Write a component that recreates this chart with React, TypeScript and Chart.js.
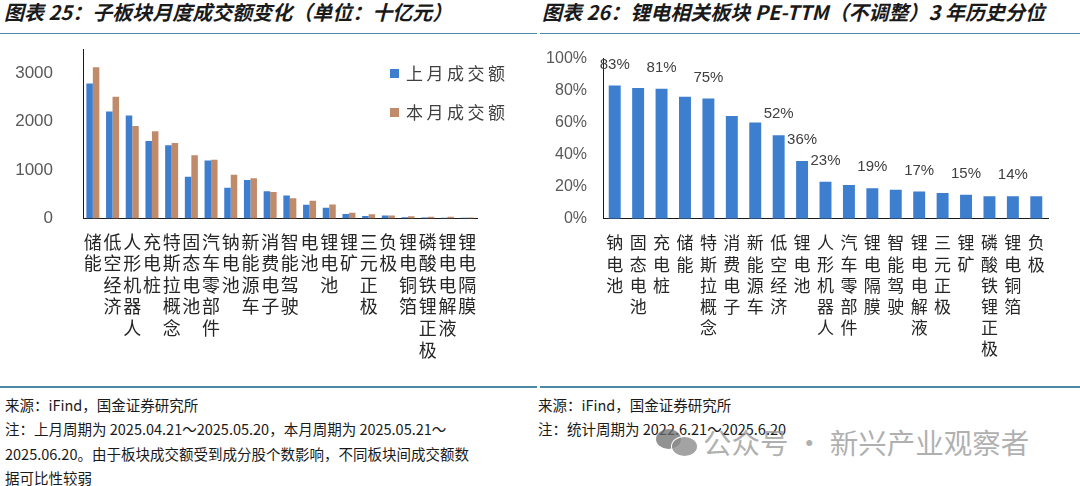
import React, { useEffect, useRef } from "react";
import { Chart, registerables } from "chart.js";

Chart.register(...registerables);

// ---------- Data: chart 25 (turnover, 十亿元) ----------
const turnoverCategories = [
  "储能", "低空经济", "人形机器人", "充电桩", "特斯拉概念", "固态电池", "汽车零部件",
  "钠电池", "新能源车", "消费电子", "智能驾驶", "电池", "锂电池", "锂矿", "三元正极",
  "负极", "锂电铜箔", "磷酸铁锂正极", "锂电电解液", "锂电隔膜",
];
const lastMonthTurnover = [2790, 2210, 2125, 1600, 1510, 860, 1200, 635, 795, 565, 475, 285, 220, 95, 50, 60, 28, 22, 15, 14];
const thisMonthTurnover = [3125, 2515, 1910, 1800, 1560, 1305, 1215, 905, 830, 545, 420, 365, 290, 118, 90, 62, 48, 35, 34, 22];
const turnoverSeriesNames = ["上月成交额", "本月成交额"];
const turnoverTicks = [0, 1000, 2000, 3000];

// ---------- Data: chart 26 (PE-TTM 3y percentile) ----------
const peCategories = [
  "钠电池", "固态电池", "充电桩", "储能", "特斯拉概念", "消费电子", "新能源车", "低空经济",
  "锂电池", "人形机器人", "汽车零部件", "锂电隔膜", "智能驾驶", "锂电电解液", "三元正极",
  "锂矿", "磷酸铁锂正极", "锂电铜箔", "负极",
];
const pePercentile = [83, 81.5, 81, 76, 75, 64, 60, 52, 36, 23, 21, 19, 18, 17, 16, 15, 14, 14, 14];
const peLabelledIndexes = [0, 2, 4, 7, 8, 9, 11, 13, 15, 17];

const BLUE = "#3e7ecf";
const BROWN = "#c08b6b";
const RULE = "#4a88a6";
const CJK = '"Noto Sans CJK SC", "Noto Sans", sans-serif';
const LATIN = '"Liberation Sans", Arial, sans-serif';

const vertical = (s: string) => Array.from(s);

function zeroPad(scale: any) {
  scale.paddingTop = 0;
  scale.paddingBottom = 0;
  scale.paddingLeft = 0;
  scale.paddingRight = 0;
}

const peLabelPlugin = {
  id: "peLabels",
  afterDatasetsDraw(chart: any) {
    const meta = chart.getDatasetMeta(0);
    const ctx = chart.ctx;
    ctx.save();
    ctx.font = `15px ${LATIN}`;
    ctx.fillStyle = "#404040";
    ctx.textAlign = "center";
    ctx.textBaseline = "middle";
    peLabelledIndexes.forEach((i) => {
      const bar = meta.data[i];
      ctx.fillText(Math.round(pePercentile[i]) + "%", bar.x, bar.y - 21);
    });
    ctx.restore();
  },
};

function TurnoverChart() {
  const ref = useRef<HTMLCanvasElement>(null);
  useEffect(() => {
    const H = 345;
    const chart = new Chart(ref.current!, {
      type: "bar",
      data: {
        labels: turnoverCategories.map(vertical),
        datasets: [
          { label: turnoverSeriesNames[0], data: lastMonthTurnover, backgroundColor: BLUE, categoryPercentage: 0.66, barPercentage: 1 },
          { label: turnoverSeriesNames[1], data: thisMonthTurnover, backgroundColor: BROWN, categoryPercentage: 0.66, barPercentage: 1 },
        ],
      },
      options: {
        responsive: false,
        animation: false,
        layout: { padding: { top: 9, right: 63, left: 0, bottom: 0 } },
        plugins: { legend: { display: false }, tooltip: { enabled: false } },
        scales: {
          x: {
            grid: { display: false, drawTicks: false },
            border: { display: true, color: "#1a1a1a", width: 1 },
            ticks: {
              autoSkip: false, maxRotation: 0, minRotation: 0, padding: 12.4,
              color: "#262626", font: { family: CJK, size: 18, lineHeight: 1.2 },
            },
            afterFit: (s: any) => { s.height = H - 178.5; zeroPad(s); },
          },
          y: {
            min: 0, max: 3500,
            grid: { display: false, drawTicks: false },
            border: { display: true, color: "#1a1a1a", width: 1 },
            ticks: {
              stepSize: 1000, padding: 30, color: "#595959", font: { family: LATIN, size: 17 },
              callback: (v: any) => String(v),
            },
            afterBuildTicks: (s: any) => { s.ticks = turnoverTicks.map((v) => ({ value: v })); },
            afterFit: (s: any) => { s.width = 83; zeroPad(s); },
          },
        },
      },
    } as any);
    return () => chart.destroy();
  }, []);
  return <canvas ref={ref} width={540} height={345} style={{ position: "absolute", left: 0, top: 40, width: 540, height: 345 }} />;
}

function PeChart() {
  const ref = useRef<HTMLCanvasElement>(null);
  useEffect(() => {
    const H = 345;
    const chart = new Chart(ref.current!, {
      type: "bar",
      data: {
        labels: peCategories.map(vertical),
        datasets: [
          { label: "PE-TTM 3年历史分位", data: pePercentile, backgroundColor: BLUE, categoryPercentage: 1, barPercentage: 0.51 },
        ],
      },
      options: {
        responsive: false,
        animation: false,
        layout: { padding: { top: 18.3, right: 32, left: 0, bottom: 0 } },
        plugins: { legend: { display: false }, tooltip: { enabled: false } },
        scales: {
          x: {
            grid: { display: false, drawTicks: false },
            border: { display: true, color: "#1a1a1a", width: 1 },
            ticks: {
              autoSkip: false, maxRotation: 0, minRotation: 0, padding: 13.8,
              color: "#262626", font: { family: CJK, size: 17, lineHeight: 1.24 },
            },
            afterFit: (s: any) => { s.height = H - 178.7; zeroPad(s); },
          },
          y: {
            min: 0, max: 100,
            grid: { display: false, drawTicks: false },
            border: { display: true, color: "#1a1a1a", width: 1 },
            ticks: { stepSize: 20, padding: 16, color: "#595959", font: { family: LATIN, size: 16 }, callback: (v: any) => v + "%" },
            afterFit: (s: any) => { s.width = 63; zeroPad(s); },
          },
        },
      },
      plugins: [peLabelPlugin],
    } as any);
    return () => chart.destroy();
  }, []);
  return <canvas ref={ref} width={540} height={345} style={{ position: "absolute", left: 540, top: 40, width: 540, height: 345 }} />;
}

const titleStyle: React.CSSProperties = {
  position: "absolute", top: 0, height: 24, lineHeight: "24px", fontFamily: CJK, fontSize: 20,
  fontWeight: 700, fontStyle: "italic", color: "#1a1a1a", whiteSpace: "nowrap", margin: 0,
};
const footStyle: React.CSSProperties = {
  position: "absolute", fontFamily: CJK, fontSize: 14.5, lineHeight: "24.4px", color: "#1a1a1a", whiteSpace: "nowrap",
};

export default function App() {
  return (
    <div style={{ position: "fixed", left: 0, top: 0, width: 1080, height: 486, background: "#fff", overflow: "hidden" }}>
      <div style={{ ...titleStyle, left: 4 }}>图表 25：子板块月度成交额变化（单位：十亿元）</div>
      <div style={{ ...titleStyle, left: 542 }}>图表 26：锂电相关板块 PE-TTM（不调整）3 年历史分位</div>
      <div style={{ position: "absolute", left: 0, top: 32.5, width: 537, height: 1.5, background: RULE }} />
      <div style={{ position: "absolute", left: 540, top: 32.5, width: 540, height: 1.5, background: RULE }} />

      <TurnoverChart />
      <PeChart />

      {/* legend of chart 25 */}
      {turnoverSeriesNames.map((n, i) => (
        <div key={n} style={{ position: "absolute", left: 390, top: 61 + i * 39, height: 24, display: "flex", alignItems: "center" }}>
          <div style={{ width: 9, height: 9, background: i === 0 ? BLUE : BROWN, marginRight: 7 }} />
          <span style={{ fontFamily: CJK, fontSize: 17, letterSpacing: 3.5, color: "#404040", lineHeight: "24px" }}>{n}</span>
        </div>
      ))}

      <div style={{ position: "absolute", left: 0, top: 386, width: 537, height: 1.5, background: RULE }} />
      <div style={{ position: "absolute", left: 540, top: 386, width: 540, height: 1.5, background: RULE }} />

      <div style={{ ...footStyle, left: 5, top: 393 }}>
        来源：iFind，国金证券研究所<br />
        注：上月周期为 2025.04.21～2025.05.20，本月周期为 2025.05.21～<br />
        2025.06.20。由于板块成交额受到成分股个数影响，不同板块间成交额数<br />
        据可比性较弱
      </div>
      <div style={{ ...footStyle, left: 538, top: 393 }}>
        来源：iFind，国金证券研究所<br />
        注：统计周期为 2022.6.21～2025.6.20
      </div>

      {/* watermark */}
      <div style={{ position: "absolute", left: 656, top: 429, width: 25, height: 20, borderRadius: "50%", background: "rgba(110,110,110,0.75)" }} />
      <div style={{ position: "absolute", left: 671, top: 436, width: 25, height: 19, borderRadius: "50%", background: "rgba(140,140,140,0.8)", border: "1.5px solid #fff" }} />
      <div style={{ position: "absolute", left: 703, top: 424, fontFamily: CJK, fontSize: 28.5, lineHeight: "36px", color: "rgba(150,150,150,0.75)", whiteSpace: "nowrap" }}>
        公众号 · 新兴产业观察者
      </div>
    </div>
  );
}
